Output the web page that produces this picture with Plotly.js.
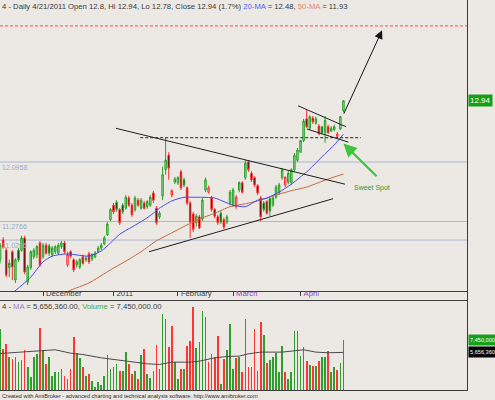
<!DOCTYPE html>
<html>
<head>
<meta charset="utf-8">
<script src="https://cdn.plot.ly/plotly-3.0.1.min.js"></script>
<style>
html,body{margin:0;padding:0;background:#ECE9E4;}
#chart{width:495px;height:400px;}
</style>
</head>
<body>
<div id="chart"></div>
<script>
// ---------------- DATA ----------------
const open = [
10.75, 11.02, 10.88, 10.64, 10.86, 10.47, 10.88, 10.88, 11.05, 10.44,
10.64, 10.79, 10.82, 10.98, 10.79, 10.95, 10.94, 10.82, 10.86, 10.84,
10.93, 10.98, 10.68, 10.86, 10.75, 10.68, 10.65, 10.79, 10.75, 10.83,
10.76, 10.79, 10.86, 10.91, 10.97, 11.09, 11.30, 11.50, 11.54, 11.44,
11.50, 11.46, 11.60, 11.50, 11.44, 11.57, 11.46, 11.53, 11.48, 11.50,
11.67, 11.46, 11.34, 11.63, 11.99, 12.19, 11.64, 11.82, 11.81, 11.96,
11.85, 11.74, 11.53, 11.38, 11.26, 11.34, 11.31, 11.71, 11.68, 11.60,
11.44, 11.34, 11.39, 11.30, 11.27, 11.53, 11.50, 11.48, 11.71, 11.81,
11.88, 12.10, 11.94, 11.88, 11.77, 11.60, 11.53, 11.55, 11.59, 11.50,
11.61, 11.67, 11.88, 11.78, 11.82, 11.81, 11.99, 12.12, 12.23, 12.39,
12.69, 12.56, 12.70, 12.63, 12.59, 12.58, 12.50, 12.58, 12.52, 12.54,
12.45, 12.55, 12.80];
const high = [
10.98, 11.06, 10.91, 10.75, 10.88, 10.77, 10.91, 11.08, 11.08, 10.68,
10.88, 10.91, 10.95, 11.01, 10.98, 10.98, 10.97, 10.94, 10.95, 10.98,
11.01, 11.01, 10.86, 10.88, 10.77, 10.75, 10.77, 10.82, 10.80, 10.86,
10.84, 10.87, 10.94, 10.98, 11.08, 11.27, 11.46, 11.53, 11.57, 11.46,
11.53, 11.64, 11.63, 11.53, 11.63, 11.60, 11.60, 11.56, 11.57, 11.64,
11.70, 11.49, 11.42, 12.03, 12.43, 12.23, 11.72, 11.89, 11.90, 11.99,
11.88, 11.76, 11.56, 11.41, 11.38, 11.37, 11.60, 11.88, 11.77, 11.63,
11.46, 11.37, 11.42, 11.33, 11.37, 11.71, 11.74, 11.64, 11.83, 11.83,
12.12, 12.12, 11.97, 11.90, 11.79, 11.63, 11.56, 11.57, 11.61, 11.63,
11.78, 11.81, 12.01, 11.89, 11.97, 12.01, 12.22, 12.29, 12.40, 12.69,
12.81, 12.74, 12.73, 12.72, 12.62, 12.59, 12.73, 12.61, 12.59, 12.61,
12.51, 12.73, 12.94];
const low = [
10.70, 10.90, 10.51, 10.51, 10.47, 10.43, 10.72, 10.86, 10.55, 10.40,
10.61, 10.76, 10.77, 10.65, 10.76, 10.82, 10.80, 10.79, 10.83, 10.82,
10.90, 10.83, 10.65, 10.77, 10.58, 10.64, 10.62, 10.68, 10.72, 10.69,
10.73, 10.77, 10.84, 10.88, 10.95, 11.08, 11.28, 11.38, 11.41, 11.23,
11.38, 11.44, 11.48, 11.34, 11.41, 11.48, 11.44, 11.44, 11.45, 11.48,
11.53, 11.23, 11.31, 11.57, 11.92, 11.85, 11.61, 11.79, 11.78, 11.71,
11.75, 11.50, 11.05, 11.13, 11.21, 11.17, 11.28, 11.68, 11.66, 11.41,
11.32, 11.23, 11.24, 11.17, 11.24, 11.50, 11.48, 11.45, 11.68, 11.66,
11.85, 11.96, 11.82, 11.75, 11.64, 11.28, 11.41, 11.37, 11.35, 11.48,
11.59, 11.64, 11.85, 11.75, 11.79, 11.78, 11.96, 12.10, 12.22, 12.37,
12.56, 12.54, 12.62, 12.61, 12.47, 12.47, 12.36, 12.48, 12.51, 12.52,
12.43, 12.54, 12.78];
const close = [
10.95, 10.92, 10.54, 10.70, 10.65, 10.75, 10.75, 11.05, 10.58, 10.65,
10.86, 10.88, 10.93, 10.68, 10.95, 10.84, 10.84, 10.91, 10.93, 10.95,
10.98, 10.86, 10.82, 10.80, 10.61, 10.72, 10.75, 10.70, 10.77, 10.72,
10.82, 10.84, 10.91, 10.95, 11.05, 11.24, 11.44, 11.41, 11.44, 11.26,
11.41, 11.61, 11.50, 11.37, 11.60, 11.50, 11.57, 11.46, 11.55, 11.61,
11.57, 11.26, 11.39, 11.92, 12.12, 12.01, 11.70, 11.86, 11.88, 11.74,
11.78, 11.53, 11.27, 11.17, 11.35, 11.19, 11.57, 11.85, 11.74, 11.44,
11.35, 11.26, 11.27, 11.20, 11.34, 11.68, 11.71, 11.61, 11.81, 11.68,
12.08, 11.99, 11.85, 11.78, 11.67, 11.34, 11.44, 11.39, 11.42, 11.60,
11.75, 11.78, 11.99, 11.89, 11.94, 11.99, 12.19, 12.26, 12.39, 12.66,
12.58, 12.72, 12.65, 12.69, 12.48, 12.50, 12.67, 12.50, 12.56, 12.58,
12.48, 12.72, 12.94];
const volumeMillions = [
9.21, 6.20, 6.95, 4.94, 4.69, 4.94, 4.19, 4.44, 5.95, 3.44,
2.03, 5.04, 5.44, 9.36, 5.95, 3.94, 5.04, 2.18, 2.78, 2.68,
3.19, 2.18, 1.68, 3.19, 7.95, 5.54, 4.84, 3.44, 2.18, 2.43,
1.43, 0.43, 1.18, 0.68, 2.18, 5.34, 3.19, 3.44, 3.84, 2.93,
2.83, 5.70, 3.84, 2.43, 2.93, 1.68, 5.34, 6.10, 2.43, 1.83,
2.93, 6.80, 3.09, 11.50, 10.70, 6.50, 9.60, 4.19, 1.68, 3.09,
3.19, 6.55, 7.30, 12.47, 6.30, 7.20, 11.96, 10.96, 4.19, 5.44,
4.94, 8.05, 0.93, 4.69, 6.05, 9.86, 3.19, 4.84, 4.94, 2.68,
10.71, 3.44, 3.44, 9.21, 2.93, 10.21, 8.35, 4.04, 4.54, 4.94,
5.54, 2.68, 6.55, 2.78, 1.68, 2.68, 8.95, 8.85, 5.19, 6.45,
4.34, 3.69, 3.54, 3.54, 4.34, 5.04, 4.94, 5.85, 2.68, 3.44,
3.04, 4.09, 7.45];

// moving averages, read at selected bars
const ma20Bar = [4, 6, 10, 14, 17, 22, 26, 29, 33, 36, 39, 43, 47, 50, 52, 56, 60, 63, 66, 70, 73, 76, 80, 84, 87, 91, 95, 100, 102, 106, 109, 112];
const ma20 = [10.29, 10.36, 10.51, 10.72, 10.80, 10.83, 10.81, 10.80, 10.87, 10.98, 11.10, 11.20, 11.30, 11.39, 11.46, 11.56, 11.61, 11.61, 11.61, 11.60, 11.55, 11.50, 11.48, 11.57, 11.60, 11.68, 11.79, 11.96, 12.04, 12.21, 12.33, 12.48];
const ma50Bar = [20, 23, 29, 36, 41, 46, 51, 56, 61, 65, 70, 75, 80, 85, 90, 95, 100, 105, 109, 112];
const ma50 = [10.26, 10.33, 10.43, 10.61, 10.73, 10.86, 11.01, 11.12, 11.23, 11.31, 11.39, 11.48, 11.52, 11.57, 11.64, 11.70, 11.75, 11.83, 11.89, 11.93];
const volMaBar = [0, 13, 18, 23, 27, 33, 39, 43, 48, 52, 56, 62, 65, 70, 74, 78, 81, 85, 92, 99, 103, 107, 112];
const volMaMillions = [5.49, 5.95, 6.05, 5.54, 5.34, 4.84, 4.44, 4.19, 3.94, 3.84, 4.19, 4.19, 4.34, 4.84, 5.04, 5.10, 5.44, 5.70, 5.70, 6.05, 5.70, 5.60, 5.65636];

// month ticks
const monthTickBar = [14, 37, 58, 76, 98];
const monthLabels = ['December', '2011', 'February', 'March', 'April'];

// horizontal study levels
const levels = [12.0958, 11.2766, 11.0206];
const levelLabels = ['12.0958', '11.2766', '11.0206'];
const targetLevel = 13.97;
const resistanceLevel = 12.43;
const resistanceBars = [45.7, 117.7];

// hand drawn trend lines (bar, price)
const trendUpperBar = [37.8, 112.5], trendUpperPrice = [12.56, 11.79];
const trendLowerBar = [48.6, 108.6], trendLowerPrice = [10.86, 11.59];
const flagUpperBar = [97.2, 112.9], flagUpperPrice = [12.87, 12.58];
const flagLowerBar = [100.1, 113.6], flagLowerPrice = [12.55, 12.37];
const projectionBar = [111.9, 124.6], projectionPrice = [12.74, 13.91];
const sweetArrowBar = [123.3, 112.0], sweetArrowPrice = [11.88, 12.35];
const sweetLabelBar = 121.3, sweetLabelPrice = 11.74;

// ---------------- BUILD ----------------
const N = close.length;
const bars = Array.from({length: N}, (_, i) => i);
const upDay = bars.map(i => i === 0 ? close[i] >= open[i] : close[i] >= close[i - 1]);

const GREEN = '#25a025', PALE_GREEN = '#aedcaa', RED = '#ff2b2b', PALE_RED = '#f6d2d2';
const VOL_GREEN = '#2e9f2e', VOL_RED = '#ff3434';
const FONT = 'Liberation Sans, Arial, sans-serif';

function subset(cond) {
  const ii = bars.filter(cond);
  return {x: ii, open: ii.map(i => open[i]), high: ii.map(i => high[i]),
          low: ii.map(i => low[i]), close: ii.map(i => close[i])};
}

const traces = [];
traces.push(Object.assign({type: 'candlestick', xaxis: 'x', yaxis: 'y', whiskerwidth: 0,
  hoverinfo: 'none', showlegend: false,
  increasing: {line: {color: GREEN, width: 1}, fillcolor: PALE_GREEN},
  decreasing: {line: {color: GREEN, width: 1}, fillcolor: '#000000'}}, subset(i => upDay[i])));
traces.push(Object.assign({type: 'candlestick', xaxis: 'x', yaxis: 'y', whiskerwidth: 0,
  hoverinfo: 'none', showlegend: false,
  increasing: {line: {color: RED, width: 1}, fillcolor: PALE_RED},
  decreasing: {line: {color: RED, width: 1}, fillcolor: '#000000'}}, subset(i => !upDay[i])));

traces.push({type: 'scatter', mode: 'lines', x: ma50Bar, y: ma50, xaxis: 'x', yaxis: 'y',
  line: {color: '#c4663f', width: 1, shape: 'spline', smoothing: 0.6}, hoverinfo: 'none'});
traces.push({type: 'scatter', mode: 'lines', x: ma20Bar, y: ma20, xaxis: 'x', yaxis: 'y',
  line: {color: '#4747ee', width: 1, shape: 'spline', smoothing: 0.6}, hoverinfo: 'none'});

const blackLine = {color: '#1e1e1e', width: 1};
[[trendUpperBar, trendUpperPrice], [trendLowerBar, trendLowerPrice],
 [flagUpperBar, flagUpperPrice], [flagLowerBar, flagLowerPrice]].forEach(([bx, py]) => {
  traces.push({type: 'scatter', mode: 'lines', x: bx, y: py, xaxis: 'x', yaxis: 'y',
    line: blackLine, hoverinfo: 'none'});
});
traces.push({type: 'scatter', mode: 'lines', x: resistanceBars,
  y: resistanceBars.map(() => resistanceLevel), xaxis: 'x', yaxis: 'y',
  line: {color: '#222', width: 1, dash: '3px,2px'}, hoverinfo: 'none'});

traces.push({type: 'bar', x: bars, y: volumeMillions, xaxis: 'x2', yaxis: 'y2', width: 0.55,
  marker: {color: bars.map(i => upDay[i] ? VOL_GREEN : VOL_RED), line: {width: 0}}, hoverinfo: 'none'});
traces.push({type: 'scatter', mode: 'lines', x: volMaBar, y: volMaMillions, xaxis: 'x2', yaxis: 'y2',
  line: {color: '#4a4a4a', width: 1}, hoverinfo: 'none'});

const XR = [-0.03, 152.3];
const XD = [0, 467 / 495];
const frame = '#3c3c3c';

const shapes = levels.map(L => ({type: 'line', xref: 'x domain', x0: 0, x1: 1, yref: 'y', y0: L, y1: L,
  line: {color: '#a9b9d2', width: 1}, layer: 'below'}));
shapes.push({type: 'line', xref: 'x domain', x0: 0, x1: 1, yref: 'y', y0: targetLevel, y1: targetLevel,
  line: {color: '#ff4a4a', width: 1, dash: '3px,2px'}});
shapes.push({type: 'line', xref: 'paper', x0: 467.5 / 495, x1: 467.5 / 495, yref: 'paper', y0: 9 / 400, y1: 1,
  line: {color: frame, width: 1}});

const annotations = [];
annotations.push({xref: 'paper', yref: 'paper', x: 0, y: 393 / 400, xanchor: 'left', yanchor: 'middle',
  showarrow: false,
  text: '4 - Daily 4/21/2011 Open 12.8, Hi 12.94, Lo 12.78, Close 12.94 (1.7%) <span style="color:#5a5af0">20-MA</span> = 12.48, <span style="color:#e2876a">50-MA</span> = 11.93',
  font: {family: FONT, size: 7.7, color: '#3a3a3a'}});
annotations.push({xref: 'paper', yref: 'paper', x: 0, y: 94 / 400, xanchor: 'left', yanchor: 'middle',
  showarrow: false,
  text: '4 - <span style="color:#a07cc8">MA</span> = 5,656,360.00, <span style="color:#49a849">Volume</span> = 7,450,000.00',
  font: {family: FONT, size: 7.7, color: '#3a3a3a'}});
annotations.push({xref: 'paper', yref: 'paper', x: 0, y: 4 / 400, xanchor: 'left', yanchor: 'middle',
  showarrow: false,
  text: 'Created with AmiBroker - advanced charting and technical analysis software. http://www.amibroker.com',
  font: {family: FONT, size: 5.6, color: '#2a2a2a'}});
levels.forEach((L, k) => annotations.push({xref: 'paper', yref: 'y', x: 0, y: L, xanchor: 'left', yanchor: 'top',
  showarrow: false, text: levelLabels[k], font: {family: FONT, size: 7, color: '#9aabc5'}}));
annotations.push({xref: 'paper', yref: 'y', x: 468 / 495, y: close[N - 1], xanchor: 'left', yanchor: 'middle',
  showarrow: false, text: close[N - 1].toFixed(2), bgcolor: '#17a017', borderpad: 1,
  font: {family: FONT, size: 8, color: '#ffffff'}});
annotations.push({xref: 'paper', yref: 'y2', x: 468 / 495, y: volumeMillions[N - 1], xanchor: 'left', yanchor: 'middle',
  showarrow: false, text: '7,450,000', bgcolor: '#17a017', borderpad: 1, height: 8,
  font: {family: FONT, size: 5.6, color: '#ffffff'}});
annotations.push({xref: 'paper', yref: 'y2', x: 468 / 495, y: volMaMillions[volMaMillions.length - 1], xanchor: 'left', yanchor: 'middle',
  showarrow: false, text: '5,656,360', bgcolor: '#000000', borderpad: 1, height: 8,
  font: {family: FONT, size: 5.6, color: '#ffffff'}});
annotations.push({xref: 'x', yref: 'y', axref: 'x', ayref: 'y',
  x: projectionBar[1], y: projectionPrice[1], ax: projectionBar[0], ay: projectionPrice[0],
  text: '', showarrow: true, arrowhead: 2, arrowsize: 1.7, arrowwidth: 1, arrowcolor: '#151515'});
annotations.push({xref: 'x', yref: 'y', axref: 'x', ayref: 'y',
  x: sweetArrowBar[1], y: sweetArrowPrice[1], ax: sweetArrowBar[0], ay: sweetArrowPrice[0],
  text: '', showarrow: true, arrowhead: 2, arrowsize: 1.2, arrowwidth: 2.2, arrowcolor: '#3cc43c'});
annotations.push({xref: 'x', yref: 'y', x: sweetLabelBar, y: sweetLabelPrice, xanchor: 'center', yanchor: 'middle',
  showarrow: false, text: 'Sweet Spot', font: {family: FONT, size: 7, color: '#2f9c2f'}});

const purple = '#8d46b8';
const tickText = monthLabels.map(m => (m === 'March' || m === 'April') ? '<span style="color:' + purple + '">' + m + '</span>' : m);

const layout = {
  width: 495, height: 400,
  margin: {l: 0, r: 0, t: 0, b: 0, pad: 0},
  paper_bgcolor: '#ECE9E4', plot_bgcolor: '#ECE9E4',
  showlegend: false, hovermode: false, boxgap: 0.32, bargap: 0,
  xaxis: {domain: XD, range: XR, anchor: 'y', rangeslider: {visible: false}, showgrid: false, zeroline: false,
    showline: true, linecolor: frame, linewidth: 1, ticks: 'outside', ticklen: 4, tickcolor: frame, tickwidth: 1,
    tickmode: 'array', tickvals: monthTickBar, ticktext: tickText, ticklabelposition: 'outside right',
    ticklabelstandoff: -5, ticklabelshift: 2, tickfont: {family: FONT, size: 7.7, color: '#404040'}},
  yaxis: {domain: [109 / 400, 1], range: [10.319, 14.327], showgrid: false, zeroline: false,
    showticklabels: false, ticks: '', showline: false},
  xaxis2: {domain: XD, range: XR, anchor: 'y2', rangeslider: {visible: false}, showgrid: false, zeroline: false,
    showticklabels: false, ticks: '', showline: true, mirror: true, linecolor: frame, linewidth: 1},
  yaxis2: {domain: [10 / 400, 99 / 400], range: [0, 13.39], showgrid: false, zeroline: false,
    showticklabels: false, ticks: '', showline: false},
  shapes: shapes,
  annotations: annotations
};

Plotly.newPlot('chart', traces, layout, {staticPlot: true, displayModeBar: false});
</script>
</body>
</html>
